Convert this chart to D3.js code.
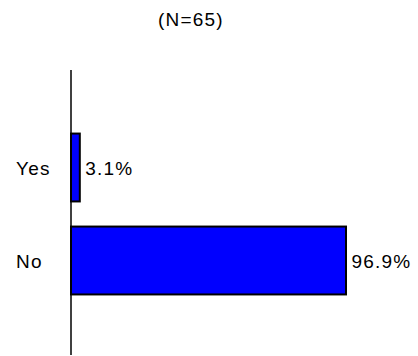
<!DOCTYPE html>
<html><head><meta charset="utf-8">
<script src="https://cdn.jsdelivr.net/npm/d3@7"></script>
<style>html,body{margin:0;padding:0;background:#fff;}svg{display:block;}</style>
</head><body>
<svg id="c" width="418" height="356"></svg>
<script>
const title = "(N=65)";
const categories = ["Yes", "No"];
const values = [3.1, 96.9];
const valueLabels = ["3.1%", "96.9%"];

const svg = d3.select("#c");
const font = "'Liberation Sans', Arial, sans-serif";
const fs = 19, ls = 1.2;

const x = d3.scaleLinear().domain([0, 100]).range([71, 354.8]);
const y = d3.scaleBand().domain(categories).range([121, 307]).paddingInner(0.27).paddingOuter(0.135);

svg.append("text").attr("x", 191).attr("y", 25.5).attr("text-anchor", "middle")
  .attr("font-family", font).attr("font-size", fs).attr("letter-spacing", ls).attr("fill", "#000").text(title);

svg.selectAll("rect.bar").data(categories).enter().append("rect").attr("class", "bar")
  .attr("x", x(0)).attr("y", d => y(d))
  .attr("width", (d, i) => x(values[i]) - x(0)).attr("height", y.bandwidth())
  .attr("fill", "#0000FF").attr("stroke", "#000").attr("stroke-width", 2);

// category axis line
svg.append("line").attr("x1", x(0)).attr("x2", x(0)).attr("y1", 70).attr("y2", 355)
  .attr("stroke", "#000").attr("stroke-width", 1.5);

svg.selectAll("text.cat").data(categories).enter().append("text").attr("class", "cat")
  .attr("x", 16).attr("y", d => y(d) + y.bandwidth() / 2 + 7)
  .attr("font-family", font).attr("font-size", fs).attr("letter-spacing", ls).attr("fill", "#000").text(d => d);

svg.selectAll("text.val").data(categories).enter().append("text").attr("class", "val")
  .attr("x", (d, i) => x(values[i]) + 5.5).attr("y", d => y(d) + y.bandwidth() / 2 + 7.5)
  .attr("font-family", font).attr("font-size", fs).attr("letter-spacing", ls).attr("fill", "#000").text((d, i) => valueLabels[i]);
</script>
</body></html>
